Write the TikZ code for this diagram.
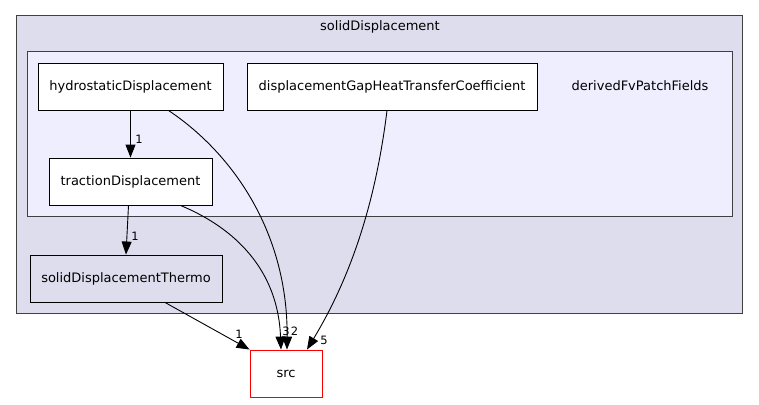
\documentclass[tikz,border=0pt]{standalone}
\usepackage{fontspec}
\setmainfont{DejaVu Sans}
\usetikzlibrary{arrows.meta, positioning}
\definecolor{dirouter}{HTML}{DDDDEE}
\definecolor{dirinner}{HTML}{EEEEFF}
\definecolor{dirframe}{HTML}{404040}
\definecolor{srcred}{HTML}{FF0000}

\begin{document}
\begin{tikzpicture}[x=1pt, y=-1pt,
    dirbox/.style={draw=black, fill=white, line width=0.9pt, minimum height=47pt, inner sep=0pt, font=\fontsize{13}{15}\selectfont},
    dep/.style={-{Triangle[length=13pt,width=10pt]}, line width=0.9pt},
    cnt/.style={font=\fontsize{11.5}{13}\selectfont, inner sep=1pt}]
    \useasboundingbox (0,0) rectangle (759,404);
    % clusters
    \draw[fill=dirouter, draw=dirframe, line width=1pt] (16,16) rectangle (742,313);
    \node[font=\fontsize{13}{15}\selectfont] (outerlbl) at (380,27) {solidDisplacement};
    \draw[fill=dirinner, draw=dirframe, line width=1pt] (27,52) rectangle (732,216);
    \node[font=\fontsize{13}{15}\selectfont] (innerlbl) at (640,86) {derivedFvPatchFields};

    % directories
    \node[dirbox, minimum width=185pt] (hydro) at (130.5,86.5) {hydrostaticDisplacement};
    \node[dirbox, minimum width=290pt] (gapheat) at (392,86.5) {displacementGapHeatTransferCoefficient};
    \node[dirbox, minimum width=163pt] (traction) at (130.5,181.5) {tractionDisplacement};
    \node[dirbox, fill=dirouter, minimum width=192pt] (thermo) at (126,278.5) {solidDisplacementThermo};
    \node[dirbox, draw=srcred, minimum width=72pt] (src) at (286,373.5) {src};

    % dependencies
    \draw[dep] (hydro.south) -- (traction.north);
    \node[cnt] (n1) at (139,139) {1};
    \draw[dep] ([xshift=38pt]hydro.south) .. controls (235,155) and (288,235) .. ([xshift=1pt]src.north);
    \node[cnt] (n2) at (294.5,331) {2};
    \draw[dep] ([xshift=50pt]traction.south) .. controls (235,228) and (278,270) .. ([xshift=-5pt]src.north);
    \node[cnt] (n3) at (286,331) {3};
    \draw[dep] ([xshift=-5pt]gapheat.south) .. controls (376,200) and (352,275) .. ([xshift=21pt]src.north);
    \node[cnt] (n5) at (324,340) {5};
    \draw[dep] ([xshift=-2pt]traction.south) -- (thermo.north);
    \node[cnt] (n1b) at (135,236) {1};
    \draw[dep] ([xshift=39pt]thermo.south) -- (src.north west);
    \node[cnt] (n1c) at (239,334) {1};
\end{tikzpicture}
\end{document}
